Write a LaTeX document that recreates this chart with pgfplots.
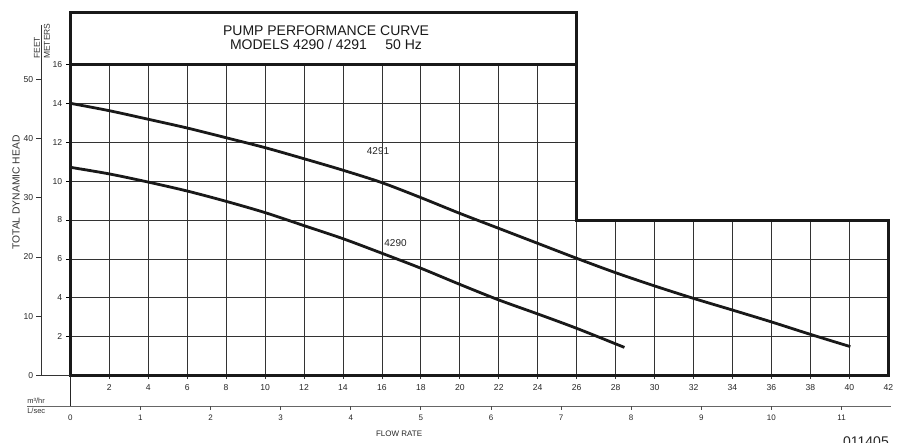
\documentclass[border=0pt]{standalone}
\usepackage{pgfplots}
\pgfplotsset{compat=1.18}
\usepackage{fontspec}
\setmainfont{Liberation Sans}
\begin{document}
\begin{tikzpicture}
\pgfplotstableread{
x y
0 14.0
2 13.62
4 13.18
6 12.73
8 12.23
10 11.72
12 11.15
14 10.56
16 9.92
18 9.15
20 8.34
22 7.57
24 6.8
26 6.03
28 5.29
30 4.61
32 3.97
34 3.37
36 2.76
38 2.12
40.05 1.49
}\curveA
\pgfplotstableread{
x y
0 10.71
2 10.37
4 9.95
6 9.49
8 8.96
10 8.38
12 7.71
14 7.04
16 6.29
18 5.52
20 4.69
22 3.89
24 3.17
26 2.43
28.45 1.45
}\curveB
\begin{axis}[
  x=19.476pt, y=19.45pt,
  xmin=0, xmax=42, ymin=0, ymax=16,
  axis x line*=bottom, axis y line*=left,
  axis line style={draw=none},
  clip=false,
  xtick={2,4,...,42}, ytick={2,4,...,16},
  tick align=outside,
  major tick length=4pt,
  xtick style={draw=none},
  ytick style={black, line width=0.8pt},
  /pgf/number format/assume math mode=true,
  ticklabel style={font=\fontsize{8.6}{9}\selectfont, text=black!85},
  xticklabel style={yshift=-1.5pt},
  yticklabel style={xshift=-0.5pt},
]
\coordinate (O) at (axis cs:0,0);
% grid
\pgfplotsinvokeforeach{2,4,...,24}{\draw[black!80, line width=0.8pt] (axis cs:#1,-0.18) -- (axis cs:#1,16);}
\pgfplotsinvokeforeach{26,28,...,40}{\draw[black!80, line width=0.8pt] (axis cs:#1,-0.18) -- (axis cs:#1,8);}
\pgfplotsinvokeforeach{2,4,6}{\draw[black!80, line width=0.8pt] (axis cs:0,#1) -- (axis cs:42,#1);}
\pgfplotsinvokeforeach{8,10,12,14}{\draw[black!80, line width=0.8pt] (axis cs:0,#1) -- (axis cs:26,#1);}
% curves
\addplot[smooth, line width=2.8pt, black!90] table {\curveA};
\addplot[smooth, line width=2.8pt, black!90] table {\curveB};
\node[font=\fontsize{10}{12}\selectfont, text=black!85] at (axis cs:15.8,11.53) {4291};
\node[font=\fontsize{10}{12}\selectfont, text=black!85] at (axis cs:16.7,6.8) {4290};
% outline
\draw[line width=3pt, line join=miter, black!90] (axis cs:0,0) -- (axis cs:0,18.69) -- (axis cs:26,18.69) -- (axis cs:26,8) -- (axis cs:42,8) -- (axis cs:42,0) -- cycle;
\draw[line width=3pt, black!90] (axis cs:0,16) -- (axis cs:26,16);
% title
\node[font=\fontsize{14}{16}\selectfont, text=black!90] at (axis cs:13.13,17.72) {PUMP PERFORMANCE CURVE};
\node[font=\fontsize{14}{16}\selectfont, text=black!90] at (axis cs:13.13,17.02) {MODELS 4290 / 4291\hspace{14.5pt} 50 Hz};
% feet axis
\draw[black!80, line width=0.8pt] (axis cs:-1.504,0) -- (axis cs:-1.504,18.03);
\draw[black!80, line width=0.8pt] (axis cs:-1.76,0) -- (axis cs:0,0);
\draw[black!80, line width=0.8pt] (axis cs:-1.504,3.048) -- (axis cs:-1.76,3.048);
\draw[black!80, line width=0.8pt] (axis cs:-1.504,6.096) -- (axis cs:-1.76,6.096);
\draw[black!80, line width=0.8pt] (axis cs:-1.504,9.144) -- (axis cs:-1.76,9.144);
\draw[black!80, line width=0.8pt] (axis cs:-1.504,12.192) -- (axis cs:-1.76,12.192);
\draw[black!80, line width=0.8pt] (axis cs:-1.504,15.24) -- (axis cs:-1.76,15.24);
\begin{scope}[every node/.style={anchor=east, inner sep=0pt, font=\fontsize{8.6}{9}\selectfont, text=black!85}]
\node at (axis cs:-1.9,0) {0};
\node at (axis cs:-1.9,3.048) {10};
\node at (axis cs:-1.9,6.096) {20};
\node at (axis cs:-1.9,9.144) {30};
\node at (axis cs:-1.9,12.192) {40};
\node at (axis cs:-1.9,15.24) {50};
\end{scope}
\node[rotate=90, anchor=west, inner sep=0pt, font=\fontsize{8.5}{9}\selectfont, text=black!80] at (axis cs:-1.71,16.28) {FEET};
\node[rotate=90, anchor=west, inner sep=0pt, font=\fontsize{8.5}{9}\selectfont, text=black!80] at (axis cs:-1.196,16.28) {METERS};
\node[rotate=90, font=\fontsize{10.3}{12}\selectfont, text=black!80] at (axis cs:-2.79,9.41) {TOTAL DYNAMIC HEAD};
% L/sec axis
\draw[black!60, line width=0.8pt] (axis cs:-2.22,-1.563) -- (axis cs:42.15,-1.563);
\draw[black!85, line width=0.8pt] (axis cs:0,0) -- (axis cs:0,-1.563);
\begin{scope}[every node/.style={inner sep=0pt, font=\fontsize{8}{9}\selectfont, text=black!85}]
\node at (axis cs:0,-2.15) {0};
\draw[black!70, line width=0.8pt] (axis cs:3.6,-1.563) -- (axis cs:3.6,-1.77); \node at (axis cs:3.6,-2.15) {1};
\draw[black!70, line width=0.8pt] (axis cs:7.2,-1.563) -- (axis cs:7.2,-1.77); \node at (axis cs:7.2,-2.15) {2};
\draw[black!70, line width=0.8pt] (axis cs:10.8,-1.563) -- (axis cs:10.8,-1.77); \node at (axis cs:10.8,-2.15) {3};
\draw[black!70, line width=0.8pt] (axis cs:14.4,-1.563) -- (axis cs:14.4,-1.77); \node at (axis cs:14.4,-2.15) {4};
\draw[black!70, line width=0.8pt] (axis cs:18,-1.563) -- (axis cs:18,-1.77); \node at (axis cs:18,-2.15) {5};
\draw[black!70, line width=0.8pt] (axis cs:21.6,-1.563) -- (axis cs:21.6,-1.77); \node at (axis cs:21.6,-2.15) {6};
\draw[black!70, line width=0.8pt] (axis cs:25.2,-1.563) -- (axis cs:25.2,-1.77); \node at (axis cs:25.2,-2.15) {7};
\draw[black!70, line width=0.8pt] (axis cs:28.8,-1.563) -- (axis cs:28.8,-1.77); \node at (axis cs:28.8,-2.15) {8};
\draw[black!70, line width=0.8pt] (axis cs:32.4,-1.563) -- (axis cs:32.4,-1.77); \node at (axis cs:32.4,-2.15) {9};
\draw[black!70, line width=0.8pt] (axis cs:36,-1.563) -- (axis cs:36,-1.77); \node at (axis cs:36,-2.15) {10};
\draw[black!70, line width=0.8pt] (axis cs:39.6,-1.563) -- (axis cs:39.6,-1.77); \node at (axis cs:39.6,-2.15) {11};
\end{scope}
\node[anchor=west, inner sep=0pt, font=\fontsize{7.5}{8}\selectfont, text=black!80] at (axis cs:-2.22,-1.306) {m³/hr};
\node[anchor=west, inner sep=0pt, font=\fontsize{7.5}{8}\selectfont, text=black!80] at (axis cs:-2.22,-1.81) {L/sec};
\node[font=\fontsize{8}{9}\selectfont, text=black!85] at (axis cs:16.88,-3.0) {FLOW RATE};
\node[anchor=north west, inner sep=0pt, font=\fontsize{14}{16}\selectfont, text=black!85] at (axis cs:39.67,-3.157) {011405};
\end{axis}
\pgfresetboundingbox
\path[use as bounding box] ([shift={(-70.3pt,-66.4pt)}]O) rectangle ([shift={(833.7pt,375.6pt)}]O);
\end{tikzpicture}
\end{document}
